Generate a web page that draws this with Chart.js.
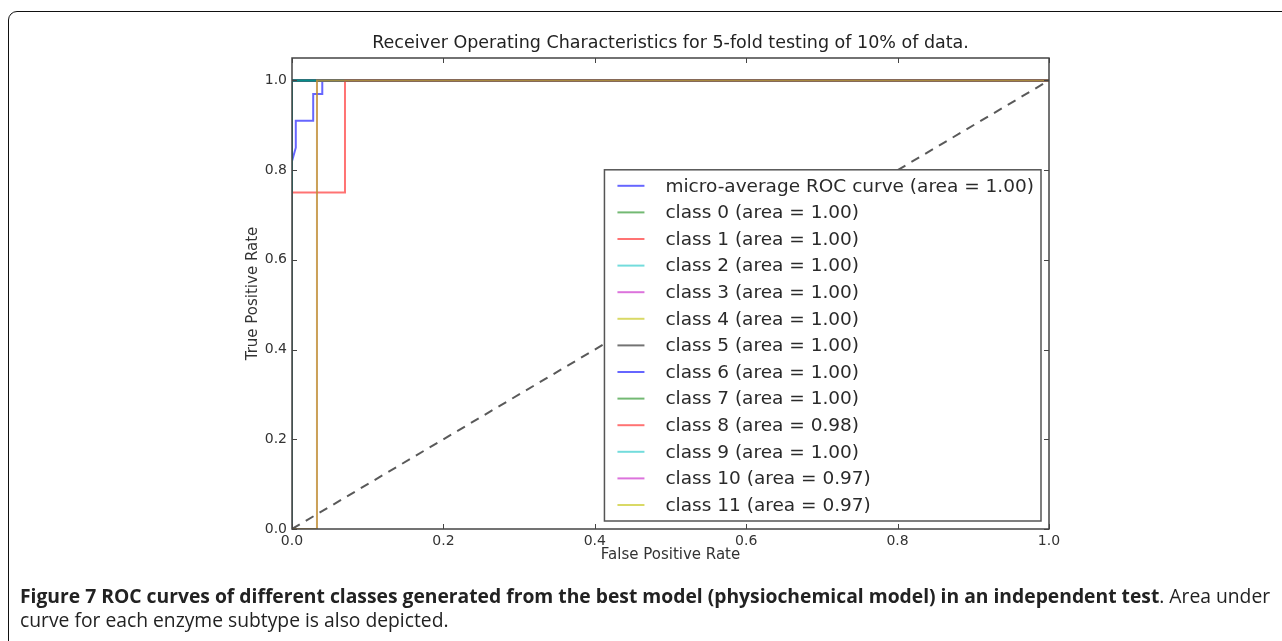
<!DOCTYPE html>
<html>
<head>
<meta charset="utf-8">
<script src="https://cdn.jsdelivr.net/npm/chart.js@4.4.1/dist/chart.umd.min.js"></script>
<style>
    html, body { margin: 0; padding: 0; background: #fff; overflow: hidden; }
    #wrap { position: relative; width: 1282px; height: 641px; }
    #frame {
        position: absolute; left: 8px; top: 11px; width: 1300px; height: 660px;
        border: 1.5px solid #111; border-radius: 9px; box-sizing: border-box;
    }
    #roc { position: absolute; left: 0; top: 0; }
    #caption {
        position: absolute; left: 20px; top: 584px; width: 1262px;
        font-family: "Open Sans", sans-serif; font-size: 19.3px; line-height: 24px; color: #222;
        white-space: nowrap;
    }
    #caption b { font-weight: 700; }
</style>
</head>
<body>
<div id="wrap">
    <div id="frame"></div>
    <canvas id="roc" width="1282" height="641"></canvas>
    <div id="caption">
        <b>Figure 7 ROC curves of different classes generated from the best model (physiochemical model) in an independent test</b>. Area under<br>
        curve for each enzyme subtype is also depicted.
    </div>
</div>
<script>
// curve names and their AUC as printed in the legend
const curveLabels = ['micro-average ROC curve', 'class 0', 'class 1', 'class 2', 'class 3', 'class 4', 'class 5',
    'class 6', 'class 7', 'class 8', 'class 9', 'class 10', 'class 11'];
const aucValues = [1.00, 1.00, 1.00, 1.00, 1.00, 1.00, 1.00, 1.00, 1.00, 0.98, 1.00, 0.97, 0.97];

// ROC points (false positive rate / true positive rate)
const microFpr = [0, 0, 0.005, 0.005, 0.028, 0.028, 0.04, 0.04, 1];
const microTpr = [0, 0.82, 0.85, 0.91, 0.91, 0.97, 0.97, 1, 1];
const perfectFpr = [0, 0, 1];
const perfectTpr = [0, 1, 1];
const class8Fpr = [0, 0, 0.07, 0.07, 1];
const class8Tpr = [0, 0.75, 0.75, 1, 1];
const lateFpr = [0, 0.033, 0.033, 1];   // classes 10 and 11
const lateTpr = [0, 0, 1, 1];
const chanceFpr = [0, 1];
const chanceTpr = [0, 1];

const xTicks = [0, 0.2, 0.4, 0.6, 0.8, 1.0];
const yTicks = [0, 0.2, 0.4, 0.6, 0.8, 1.0];

// matplotlib's old b g r c m y k cycle, drawn a bit transparent
const cycle = ['rgba(0,0,255,0.6)', 'rgba(0,128,0,0.55)', 'rgba(255,0,0,0.55)', 'rgba(0,191,191,0.55)',
    'rgba(191,0,191,0.55)', 'rgba(191,191,0,0.6)', 'rgba(0,0,0,0.55)'];

const curvePoints = [
    [microFpr, microTpr],
    [perfectFpr, perfectTpr], [perfectFpr, perfectTpr], [perfectFpr, perfectTpr], [perfectFpr, perfectTpr],
    [perfectFpr, perfectTpr], [perfectFpr, perfectTpr], [perfectFpr, perfectTpr], [perfectFpr, perfectTpr],
    [class8Fpr, class8Tpr], [perfectFpr, perfectTpr], [lateFpr, lateTpr], [lateFpr, lateTpr]
];

function toXY(xs, ys) {
    return xs.map((x, i) => ({ x: x, y: ys[i] }));
}

const datasets = [{
    label: '',
    data: toXY(chanceFpr, chanceTpr),
    borderColor: 'rgba(0,0,0,0.65)',
    borderWidth: 2,
    borderDash: [9, 7],
}];
curvePoints.forEach((pts, i) => {
    datasets.push({
        label: curveLabels[i] + ' (area = ' + aucValues[i].toFixed(2) + ')',
        data: toXY(pts[0], pts[1]),
        borderColor: cycle[i % cycle.length],
        borderWidth: 2,
    });
});
// chart.js paints dataset 0 on top; matplotlib paints the last one on top
datasets.forEach((d, i) => { d.order = datasets.length - i; });

const axisColor = '#444';

// full box round the axes with matplotlib style inward ticks
const frameTicks = {
    id: 'frameTicks',
    afterDatasetsDraw(chart) {
        const { ctx, chartArea: a, scales } = chart;
        ctx.save();
        ctx.strokeStyle = axisColor;
        ctx.lineWidth = 1.5;
        ctx.strokeRect(a.left, a.top, a.right - a.left, a.bottom - a.top);
        ctx.lineWidth = 1;
        ctx.beginPath();
        xTicks.forEach(v => {
            const px = Math.round(scales.x.getPixelForValue(v)) + 0.5;
            ctx.moveTo(px, a.bottom); ctx.lineTo(px, a.bottom - 5);
            ctx.moveTo(px, a.top); ctx.lineTo(px, a.top + 5);
        });
        yTicks.forEach(v => {
            const py = Math.round(scales.y.getPixelForValue(v)) + 0.5;
            ctx.moveTo(a.left, py); ctx.lineTo(a.left + 5, py);
            ctx.moveTo(a.right, py); ctx.lineTo(a.right - 5, py);
        });
        ctx.stroke();
        ctx.restore();
    }
};

// legend box in the lower right corner of the axes
const boxLegend = {
    id: 'boxLegend',
    afterDraw(chart) {
        const { ctx, chartArea: a } = chart;
        const items = chart.data.datasets.filter(d => d.label);
        const rowH = 26.6;
        ctx.save();
        ctx.font = '18.5px "DejaVu Sans"';
        const textW = Math.max(...items.map(d => ctx.measureText(d.label).width));
        const w = 13 + 27 + 21 + textW + 7;
        const h = 32 + (items.length - 1) * rowH;
        const right = a.right - 8;
        const bottom = a.bottom - 8;
        const left = right - w;
        const top = bottom - h;
        ctx.fillStyle = '#fff';
        ctx.fillRect(left, top, w, h);
        ctx.strokeStyle = '#555';
        ctx.lineWidth = 1.5;
        ctx.strokeRect(left, top, w, h);
        ctx.textBaseline = 'middle';
        items.forEach((d, i) => {
            const cy = top + 16 + i * rowH;
            ctx.strokeStyle = d.borderColor;
            ctx.lineWidth = 2;
            ctx.beginPath();
            ctx.moveTo(left + 13, cy);
            ctx.lineTo(left + 40, cy);
            ctx.stroke();
            ctx.fillStyle = '#2a2a2a';
            ctx.fillText(d.label, left + 61, cy + 1);
        });
        ctx.restore();
    }
};

new Chart(document.getElementById('roc').getContext('2d'), {
    type: 'line',
    data: { datasets: datasets },
    options: {
        responsive: false,
        animation: false,
        layout: { padding: { left: 240, right: 233, top: 33, bottom: 74 } },
        elements: { point: { radius: 0 }, line: { tension: 0 } },
        plugins: {
            legend: { display: false },
            tooltip: { enabled: false },
            title: {
                display: true,
                fullSize: false,
                text: 'Receiver Operating Characteristics for 5-fold testing of 10% of data.',
                color: '#222',
                font: { family: 'DejaVu Sans', size: 17.5, weight: 'normal' },
                padding: { top: 0, bottom: 4 },
            },
        },
        scales: {
            x: {
                type: 'linear',
                min: 0,
                max: 1,
                grid: { display: false, drawTicks: false },
                border: { display: false },
                ticks: {
                    color: '#333',
                    font: { family: 'DejaVu Sans', size: 14 },
                    padding: 4,
                    maxRotation: 0,
                    callback: v => v.toFixed(1),
                },
                title: {
                    display: true,
                    text: 'False Positive Rate',
                    color: '#333',
                    font: { family: 'DejaVu Sans', size: 15 },
                    padding: { top: 0, bottom: 3 },
                },
                afterBuildTicks: scale => { scale.ticks = xTicks.map(v => ({ value: v })); },
                afterFit: scale => { scale.height = 38; },
            },
            y: {
                type: 'linear',
                min: 0,
                max: 1.05,
                grid: { display: false, drawTicks: false },
                border: { display: false },
                ticks: {
                    color: '#333',
                    font: { family: 'DejaVu Sans', size: 14 },
                    padding: 5,
                    callback: v => v.toFixed(1),
                },
                title: {
                    display: true,
                    text: 'True Positive Rate',
                    color: '#333',
                    font: { family: 'DejaVu Sans', size: 15 },
                    padding: { top: 4, bottom: 0 },
                },
                afterBuildTicks: scale => { scale.ticks = yTicks.map(v => ({ value: v })); },
                afterFit: scale => { scale.width = 52; },
            },
        },
    },
    plugins: [frameTicks, boxLegend],
});
</script>
</body>
</html>
